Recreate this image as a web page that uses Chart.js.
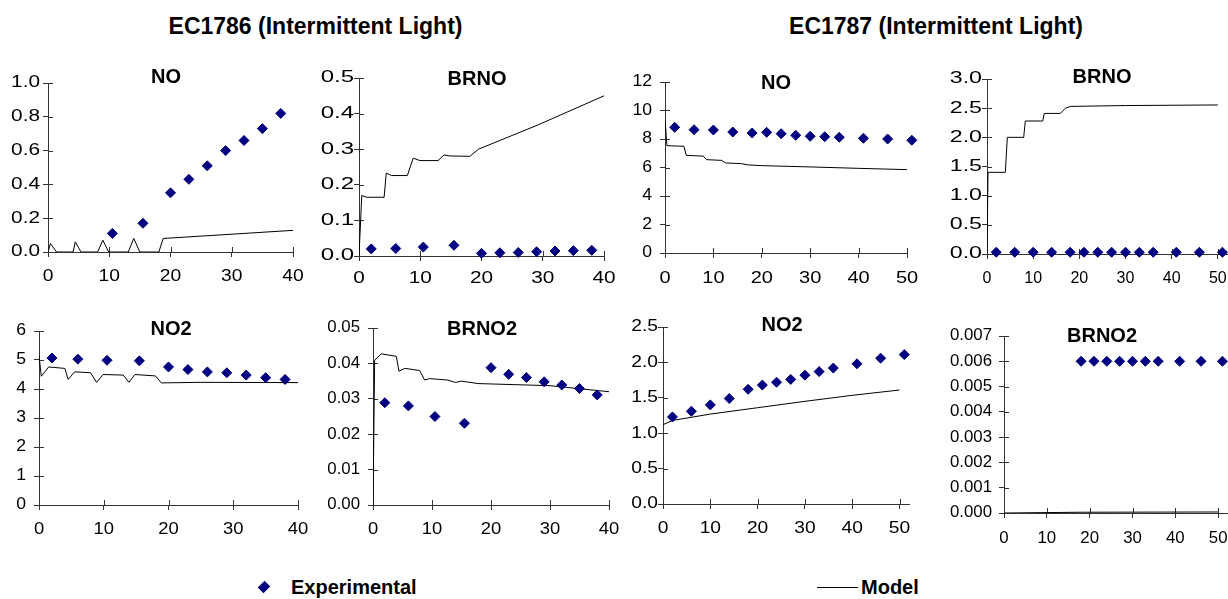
<!DOCTYPE html>
<html>
<head>
<meta charset="utf-8">
<script src="https://cdn.jsdelivr.net/npm/chart.js@4/dist/chart.umd.min.js"></script>
<style>
  html, body { margin:0; padding:0; background:#fff; }
  body { width:1228px; height:599px; overflow:hidden; position:relative; font-family:'Liberation Sans', Arial, sans-serif; }
  canvas { position:absolute; }
  .t { position:absolute; transform:translate(-50%,-50%); white-space:nowrap; font-weight:bold; line-height:1; color:#000; }
  .big { font-size:23px; }
  .pt { font-size:20px; }
  .leg { position:absolute; font-weight:bold; font-size:20px; line-height:1; transform:translateY(-50%); white-space:nowrap; }
</style>
</head>
<body>
<script>
// ---------- EC1786 (times in minutes) ----------
const tA_NO = [10.5, 15.5, 20, 23, 26, 29, 32, 35, 38];
const eA_NO = [0.11, 0.17, 0.35, 0.43, 0.51, 0.60, 0.66, 0.73, 0.82];
const tA = [2, 6, 10.5, 15.5, 20, 23, 26, 29, 32, 35, 38];
const eA_BRNO = [0.020, 0.021, 0.025, 0.030, 0.0075, 0.009, 0.010, 0.012, 0.014, 0.015, 0.016];
const eA_NO2 = [5.07, 5.03, 4.99, 4.97, 4.76, 4.67, 4.59, 4.56, 4.48, 4.39, 4.33];
const eA_BRNO2 = [0.0289, 0.028, 0.025, 0.0231, 0.0388, 0.0369, 0.036, 0.0348, 0.0339, 0.0329, 0.0311];

const mA_NO_t = [0, 0.4, 1.4, 4.1, 4.45, 5.4, 8.1, 8.95, 9.9, 13.1, 14.0, 15.0, 18.1, 18.8, 40];
const mA_NO_v = [0, 0.05, 0, 0, 0.06, 0, 0, 0.07, 0, 0, 0.08, 0, 0, 0.08, 0.128];
const mA_BRNO_t = [0, 0.45, 1.25, 4.1, 4.45, 5.3, 7.9, 8.85, 9.95, 12.9, 13.9, 14.8, 18.1, 19.5, 29.2, 40];
const mA_BRNO_v = [0, 0.170, 0.165, 0.165, 0.233, 0.226, 0.226, 0.275, 0.268, 0.268, 0.284, 0.281, 0.280, 0.300, 0.368, 0.450];
const mA_NO2_t = [0, 0.35, 1.5, 4.0, 4.5, 5.5, 7.95, 8.9, 9.9, 13.0, 13.9, 14.8, 18.0, 18.9, 25, 40];
const mA_NO2_v = [5.16, 4.44, 4.76, 4.71, 4.33, 4.59, 4.56, 4.23, 4.5, 4.48, 4.23, 4.5, 4.45, 4.21, 4.23, 4.22];
const mA_BRNO2_t = [0, 0.28, 1.4, 3.95, 4.4, 5.4, 7.9, 8.75, 9.6, 12.7, 13.95, 14.97, 17.8, 30, 40];
const mA_BRNO2_v = [0, 0.0409, 0.0427, 0.042, 0.0378, 0.0386, 0.038, 0.0353, 0.0357, 0.0353, 0.0346, 0.035, 0.0343, 0.0337, 0.032];

// ---------- EC1787 ----------
const tB = [2, 6, 10, 14, 18, 21, 24, 27, 30, 33, 36, 41, 46, 51];
const eB_NO = [8.82, 8.65, 8.63, 8.49, 8.42, 8.47, 8.37, 8.26, 8.19, 8.16, 8.12, 8.05, 8.0, 7.91];
const eB_BRNO = [0.03, 0.03, 0.03, 0.03, 0.03, 0.03, 0.03, 0.03, 0.03, 0.03, 0.03, 0.03, 0.03, 0.03];
const eB_NO2 = [1.23, 1.31, 1.40, 1.49, 1.62, 1.68, 1.72, 1.76, 1.82, 1.87, 1.92, 1.98, 2.06, 2.11];
const tB_BRNO2 = [18, 21, 24, 27, 30, 33, 36, 41, 46, 51];
const eB_BRNO2 = [0.006, 0.006, 0.006, 0.006, 0.006, 0.006, 0.006, 0.006, 0.006, 0.006];

const mB_NO_t = [0, 0.4, 3.9, 4.4, 7.9, 8.6, 11.7, 12.5, 15.8, 17.2, 20, 30, 40, 50];
const mB_NO_v = [9.4, 7.53, 7.49, 6.85, 6.8, 6.55, 6.5, 6.32, 6.27, 6.18, 6.13, 6.04, 5.94, 5.85];
const mB_BRNO_t = [0, 0.22, 3.97, 4.4, 7.95, 8.3, 12.07, 12.4, 15.9, 17.0, 18.1, 30, 50];
const mB_BRNO_v = [0, 1.40, 1.40, 2.0, 2.0, 2.28, 2.28, 2.41, 2.41, 2.50, 2.53, 2.545, 2.555];
const mB_NO2_t = [0, 2, 10, 20, 30, 40, 50];
const mB_NO2_v = [1.12, 1.18, 1.27, 1.36, 1.45, 1.535, 1.61];
const mB_BRNO2_t = [0, 18, 50];
const mB_BRNO2_v = [0, 0.00003, 0.00004];

// ---------- titles / legend text ----------
const groupTitles = ['EC1786 (Intermittent Light)', 'EC1787 (Intermittent Light)'];
const seriesNames = ['Experimental', 'Model'];

const panels = [
  {L:48,  R:293,  T:83,  B:252, xMax:40, yMax:1.0,   yStep:0.2,   dec:1, yPad:3, xPad:10, sy:1.3,  sx:1.2,  m:[mA_NO_t, mA_NO_v],       e:[tA_NO, eA_NO],       title:'NO',    tx:166,  ty:76},
  {L:359, R:604,  T:78,  B:256, xMax:40, yMax:0.5,   yStep:0.1,   dec:1, yPad:0, xPad:8,  sy:1.5,  sx:1.3,  m:[mA_BRNO_t, mA_BRNO_v],   e:[tA, eA_BRNO],        title:'BRNO',  tx:477,  ty:78},
  {L:665, R:907,  T:82,  B:253, xMax:50, yMax:12,    yStep:2,     dec:0, yPad:8, xPad:11, sy:1.1,  sx:1.25, m:[mB_NO_t, mB_NO_v],       e:[tB, eB_NO],          title:'NO',    tx:776,  ty:82},
  {L:987, R:1264, T:79,  B:254, xMax:60, yMax:3.0,   yStep:0.5,   dec:1, yPad:0, xPad:10, sy:1.45, sx:1.0,  m:[mB_BRNO_t, mB_BRNO_v],   e:[tB, eB_BRNO],        title:'BRNO',  tx:1102, ty:76},
  {L:39,  R:298,  T:331, B:505, xMax:40, yMax:6,     yStep:1,     dec:0, yPad:8, xPad:10, sy:1.1,  sx:1.15, m:[mA_NO2_t, mA_NO2_v],     e:[tA, eA_NO2],         title:'NO2',   tx:171,  ty:328},
  {L:373, R:609,  T:328, B:505, xMax:40, yMax:0.05,  yStep:0.01,  dec:2, yPad:8, xPad:10, sy:1.05, sx:1.15, m:[mA_BRNO2_t, mA_BRNO2_v], e:[tA, eA_BRNO2],       title:'BRNO2', tx:482,  ty:328},
  {L:663, R:909,  T:327, B:504, xMax:52, yMax:2.5,   yStep:0.5,   dec:1, yPad:0, xPad:10, sy:1.2,  sx:1.2,  m:[mB_NO2_t, mB_NO2_v],     e:[tB, eB_NO2],         title:'NO2',   tx:782,  ty:324},
  {L:1004,R:1261, T:336, B:513, xMax:60, yMax:0.007, yStep:0.001, dec:3, yPad:7, xPad:11, sy:1.05, sx:1.05, m:[mB_BRNO2_t, mB_BRNO2_v], e:[tB_BRNO2, eB_BRNO2], title:'BRNO2', tx:1102, ty:335}
];

const WY = 60, HX = 40, PT = 12, PR = 22;
const AXIS = '#333';

Chart.defaults.font.family = "'Liberation Sans', Arial, sans-serif";
Chart.defaults.font.size = 16;
Chart.defaults.color = '#000';

const crossTicks = {
  id: 'crossTicks',
  beforeDatasetsDraw(chart) {
    const {ctx, chartArea: a, scales: {x, y}} = chart;
    ctx.save();
    ctx.strokeStyle = AXIS; ctx.lineWidth = 1;
    ctx.beginPath();
    y.ticks.forEach(t => { const p = Math.round(y.getPixelForValue(t.value)) + 0.5; ctx.moveTo(a.left, p); ctx.lineTo(a.left + 5, p); });
    x.ticks.forEach(t => { const p = Math.round(x.getPixelForValue(t.value)) + 0.5; ctx.moveTo(p, a.bottom); ctx.lineTo(p, a.bottom - 5); });
    ctx.stroke();
    ctx.restore();
  }
};

// widen tick label glyphs horizontally (the reference's labels are drawn wide)
const makeStretch = (sx, sy) => ({
  id: 'stretchText',
  beforeInit(chart) {
    const ctx = chart.ctx;
    const orig = ctx.fillText;
    ctx.fillText = function (text, x, y) {
      const s = this.textAlign === 'right' ? sy : sx;
      this.save(); this.translate(x, y); this.scale(s, 1);
      orig.call(this, text, 0, 0);
      this.restore();
    };
  }
});

const toXY = (t, v) => t.map((x, i) => ({x, y: v[i]}));

panels.forEach(p => {
  const c = document.createElement('canvas');
  const w = p.R - p.L + WY + PR, h = p.B - p.T + PT + HX;
  c.width = w; c.height = h;
  c.style.left = (p.L - WY) + 'px';
  c.style.top = (p.T - PT) + 'px';
  c.style.width = w + 'px'; c.style.height = h + 'px';
  document.body.appendChild(c);
  new Chart(c, {
    type: 'scatter',
    data: {
      datasets: [
        { label: seriesNames[0], data: toXY(p.e[0], p.e[1]), pointStyle: 'rectRot', pointRadius: 5, pointHoverRadius: 5,
          backgroundColor: '#000080', borderColor: '#000080', borderWidth: 1, showLine: false, clip: false },
        { label: seriesNames[1], data: toXY(p.m[0], p.m[1]), showLine: true, pointRadius: 0, borderColor: '#000',
          backgroundColor: '#000', borderWidth: 1, tension: 0, fill: false }
      ]
    },
    options: {
      responsive: false, animation: false, devicePixelRatio: 1,
      layout: { padding: { top: PT, right: PR, left: 0, bottom: 0 } },
      plugins: { legend: { display: false }, tooltip: { enabled: false }, title: { display: false } },
      scales: {
        x: {
          type: 'linear', min: 0, max: p.xMax,
          grid: { drawOnChartArea: false, drawTicks: true, tickLength: 5, color: AXIS },
          border: { color: AXIS, width: 1 },
          ticks: { stepSize: 10, autoSkip: false, maxRotation: 0, includeBounds: false, padding: p.xPad, color: '#000',
                   callback: v => String(v) },
          afterFit: s => { s.height = HX; s.paddingLeft = 0; s.paddingRight = 0; }
        },
        y: {
          type: 'linear', min: 0, max: p.yMax,
          grid: { drawOnChartArea: false, drawTicks: true, tickLength: 5, color: AXIS },
          border: { color: AXIS, width: 1 },
          ticks: { stepSize: p.yStep, autoSkip: false, includeBounds: true, padding: p.yPad, color: '#000',
                   callback: v => Number(v).toFixed(p.dec) },
          afterFit: s => { s.width = WY; s.paddingTop = 0; s.paddingBottom = 0; }
        }
      }
    },
    plugins: [crossTicks, makeStretch(p.sx, p.sy)]
  });
  const d = document.createElement('div');
  d.className = 't pt';
  d.textContent = p.title;
  d.style.left = p.tx + 'px'; d.style.top = p.ty + 'px';
  document.body.appendChild(d);
});

// group titles
[[315.5, 26], [936, 26]].forEach((pos, i) => {
  const d = document.createElement('div');
  d.className = 't big';
  d.textContent = groupTitles[i];
  d.style.left = pos[0] + 'px'; d.style.top = pos[1] + 'px';
  document.body.appendChild(d);
});

// legend
const LY = 587;
const dia = document.createElement('div');
dia.style.cssText = 'position:absolute;width:8px;height:8px;background:#000080;left:' + (264 - 4) + 'px;top:' + (LY - 4) + 'px;transform:rotate(45deg) scaleY(1.2);';
document.body.appendChild(dia);
const l1 = document.createElement('div');
l1.className = 'leg'; l1.textContent = seriesNames[0];
l1.style.left = '291px'; l1.style.top = LY + 'px';
document.body.appendChild(l1);
const ln = document.createElement('div');
ln.style.cssText = 'position:absolute;left:817px;width:41px;height:0;border-top:1px solid #000;top:' + LY + 'px;';
document.body.appendChild(ln);
const l2 = document.createElement('div');
l2.className = 'leg'; l2.textContent = seriesNames[1];
l2.style.left = '861px'; l2.style.top = LY + 'px';
document.body.appendChild(l2);
</script>
</body>
</html>
